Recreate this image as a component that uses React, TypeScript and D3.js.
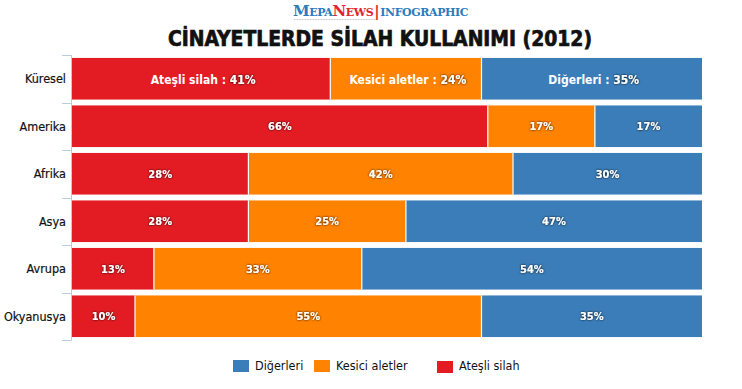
import React from 'react';
import * as d3 from 'd3';

const W = 742;
const H = 389;

const regions = ['Küresel', 'Amerika', 'Afrika', 'Asya', 'Avrupa', 'Okyanusya'];
const firearms = [41, 66, 28, 28, 13, 10];
const sharp = [24, 17, 42, 25, 33, 55];
const others = [35, 17, 30, 47, 54, 35];

const seriesNames = ['Ateşli silah', 'Kesici aletler', 'Diğerleri'];
const seriesColors = ['#e31c23', '#ff8200', '#3b7db8'];
const legendOrder = [2, 1, 0];

const rows = regions.map((r, i) => ({ region: r, values: [firearms[i], sharp[i], others[i]] }));

const labelFont = '"DejaVu Sans Condensed", "DejaVu Sans", sans-serif';

export default function App() {
  const x = d3.scaleLinear().domain([0, 100]).range([72, 702]);
  const y = d3.scaleBand<string>().domain(regions).range([55, 340]).paddingInner(0.124).paddingOuter(0.062);
  const bw = y.bandwidth();

  const legendX = [233, 314, 437];

  return (
    <svg width={W} height={H} style={{ position: 'absolute', left: 0, top: 0, background: '#fff' }}>
      <defs>
        <filter id="shadow" x="-20%" y="-40%" width="140%" height="180%">
          <feDropShadow dx="0" dy="0" stdDeviation="0.9" floodColor="#000" floodOpacity="0.95" />
        </filter>
      </defs>

      {/* header logo */}
      <text x={293} y={16} fontFamily='"DejaVu Serif", serif' fontWeight="bold" fontSize={15} letterSpacing={-0.4}>
        <tspan fill="#2b7bbd">M</tspan>
        <tspan fill="#2b7bbd" fontSize={11}>EPA</tspan>
        <tspan fill="#e3232b">N</tspan>
        <tspan fill="#e3232b" fontSize={11}>EWS</tspan>
        <tspan fill="#e3232b" dx={1}>|</tspan>
        <tspan fill="#2b7bbd" fontSize={11} dx={1}>INFOGRAPHIC</tspan>
      </text>
      <line x1={294} x2={376} y1={19.5} y2={19.5} stroke="#c8c8c8" strokeWidth={1} strokeDasharray="1 0.6" />

      {/* title */}
      <text x={168} y={46} fontFamily={labelFont} fontWeight="bold" fontSize={22} fill="#111"
        stroke="#111" strokeWidth={0.7} textLength={424} lengthAdjust="spacingAndGlyphs">
        CİNAYETLERDE SİLAH KULLANIMI (2012)
      </text>

      {/* axis */}
      <line x1={71.5} x2={71.5} y1={55} y2={340} stroke="#b9cde2" strokeWidth={1} />
      {d3.range(regions.length + 1).map(i => {
        const ty = Math.round(55 + i * y.step()) + 0.5;
        return <line key={i} x1={62} x2={71.5} y1={ty} y2={ty} stroke="#b9cde2" strokeWidth={1} />;
      })}

      {rows.map((row, ri) => {
        const y0 = y(row.region)!;
        let acc = 0;
        const segs = row.values.map((v, si) => {
          const s = { start: acc, end: acc + v, v, si };
          acc += v;
          return s;
        });
        return (
          <g key={row.region}>
            <text x={66} y={y0 + bw / 2 + 1} textAnchor="end" dominantBaseline="middle"
              fontFamily={labelFont} fontSize={12.5} fill="#111" stroke="#111" strokeWidth={0.2}>{row.region}</text>
            {segs.map(s => (
              <rect key={s.si} x={x(s.start)} y={y0} width={x(s.end) - x(s.start)} height={bw} fill={seriesColors[s.si]} />
            ))}
            {segs.slice(1).map(s => (
              <line key={'d' + s.si} x1={x(s.start)} x2={x(s.start)} y1={y0} y2={y0 + bw} stroke="#fff" strokeWidth={1.2} />
            ))}
            {segs.map(s => {
              const cx = (x(s.start) + x(s.end)) / 2;
              const cy = y0 + bw / 2 + 1;
              if (ri === 0) {
                return (
                  <text key={'t' + s.si} x={cx + 2} y={cy} textAnchor="middle" dominantBaseline="middle"
                    fontFamily={labelFont} fontWeight="bold" fontSize={12} fill="#fff">
                    <tspan>{seriesNames[s.si]} : </tspan>
                    <tspan filter="url(#shadow)">{s.v}%</tspan>
                  </text>
                );
              }
              return (
                <text key={'t' + s.si} x={cx} y={cy} textAnchor="middle" dominantBaseline="middle"
                  fontFamily={labelFont} fontWeight="bold" fontSize={11} fill="#fff" filter="url(#shadow)">
                  {s.v}%
                </text>
              );
            })}
          </g>
        );
      })}

      {/* legend */}
      {legendOrder.map((si, i) => (
        <g key={si}>
          <rect x={legendX[i]} y={i === 2 ? 361 : 360} width={16} height={12} fill={seriesColors[si]} />
          <text x={legendX[i] + 22} y={370} fontFamily={labelFont} fontSize={12.5} fill="#111">{seriesNames[si]}</text>
        </g>
      ))}
    </svg>
  );
}
